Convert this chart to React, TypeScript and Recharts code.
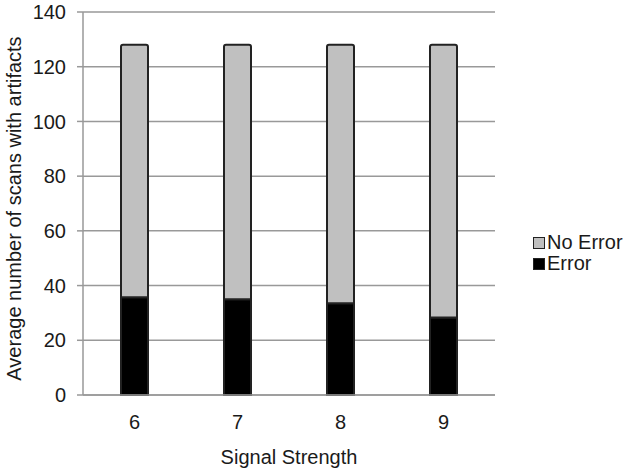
import React from "react";
import { BarChart, Bar, XAxis, YAxis, CartesianGrid, Legend } from "recharts";

const categories = ["6", "7", "8", "9"];
const errorValues = [35.7, 35.0, 33.5, 28.3];
const noErrorValues = [92.3, 93.0, 94.5, 99.7];
const yTicks = [0, 20, 40, 60, 80, 100, 120, 140];

const data = categories.map((c, i) => ({
  strength: c,
  Error: errorValues[i],
  "No Error": noErrorValues[i],
}));

const FONT = "'Liberation Sans', Arial, sans-serif";
const TEXT = "#1a1a1a";
const GRID = "#999999";

const LegendContent = (props: any) => {
  const items = [...(props.payload || [])].reverse();
  return (
    <div style={{ fontFamily: FONT, fontSize: 20, color: TEXT }}>
      {items.map((it: any) => (
        <div
          key={it.value}
          style={{ display: "flex", alignItems: "center", height: 21 }}
        >
          <span
            style={{
              display: "inline-block",
              width: 10,
              height: 10,
              background: it.color,
              border: "1px solid #222",
              marginRight: 2,
            }}
          />
          <span>{it.value}</span>
        </div>
      ))}
    </div>
  );
};

export default function App() {
  return (
    <div style={{ position: "absolute", left: 0, top: 0, background: "#fff" }}>
      <BarChart
        width={635}
        height={470}
        data={data}
        margin={{ top: 12, right: 40, bottom: 0, left: 0 }}
        barCategoryGap="0%"
      >
        <CartesianGrid horizontal vertical={false} stroke={GRID} strokeWidth={1.5} />
        <XAxis
          dataKey="strength"
          height={75}
          axisLine={{ stroke: GRID, strokeWidth: 1.5 }}
          tickLine={false}
          tickSize={0}
          tickMargin={20}
          tick={{ fontFamily: FONT, fontSize: 20, fill: TEXT }}
          label={{
            value: "Signal Strength",
            position: "insideBottom",
            offset: 6,
            style: { fontFamily: FONT, fontSize: 20, fill: TEXT },
          }}
        />
        <YAxis
          width={83}
          domain={[0, 140]}
          ticks={yTicks}
          interval={0}
          axisLine={{ stroke: GRID, strokeWidth: 1.5 }}
          tickLine={{ stroke: GRID, strokeWidth: 1.5 }}
          tickSize={6}
          tickMargin={11}
          tick={{ fontFamily: FONT, fontSize: 20, fill: TEXT }}
          label={{
            value: "Average number of scans with artifacts",
            angle: -90,
            position: "insideLeft",
            offset: 0,
            content: (p: any) => {
              const vb = p.viewBox || {};
              const cy = vb.y + vb.height / 2 + 5;
              return (
                <text
                  x={14}
                  y={cy}
                  transform={`rotate(-90, 14, ${cy})`}
                  textAnchor="middle"
                  dominantBaseline="central"
                  style={{ fontFamily: FONT, fontSize: 20, fill: TEXT }}
                >
                  Average number of scans with artifacts
                </text>
              );
            },
          }}
        />
        <YAxis
          yAxisId="frame"
          orientation="right"
          width={0}
          domain={[0, 140]}
          tick={false}
          tickLine={false}
          axisLine={{ stroke: GRID, strokeWidth: 1.5 }}
        />
        <Legend
          layout="vertical"
          verticalAlign="top"
          align="right"
          content={<LegendContent />}
          wrapperStyle={{ position: "absolute", left: 533, top: 232, width: 100 }}
        />
        <Bar
          dataKey="Error"
          stackId="a"
          fill="#000000"
          stroke="#222222"
          strokeWidth={2}
          barSize={27}
          isAnimationActive={false}
        />
        <Bar
          dataKey="No Error"
          stackId="a"
          fill="#c0c0c0"
          stroke="#222222"
          strokeWidth={2}
          barSize={27}
          radius={[2, 2, 0, 0]}
          isAnimationActive={false}
        />
      </BarChart>
    </div>
  );
}
